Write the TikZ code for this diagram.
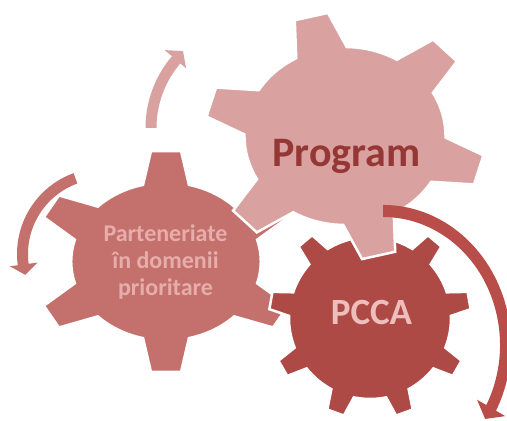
\documentclass[tikz,border=0pt]{standalone}
\usepackage{fontspec}
\setmainfont{Carlito}

\definecolor{programfill}{HTML}{D9A2A1}
\definecolor{programtext}{HTML}{953735}
\definecolor{partfill}{HTML}{C4716E}
\definecolor{parttext}{HTML}{E6ADAB}
\definecolor{pccafill}{HTML}{AE4A46}
\definecolor{pccatext}{HTML}{EDBEBC}
\definecolor{pccaturn}{HTML}{B84D49}

% teeth, body radius, tip radius, first tooth angle, base half angle, tip half angle
\newcommand{\cog}[6]{%
  (#4-#5:#2) \foreach \k [evaluate=\k as \ang using {#4+(\k-1)*360/#1}] in {1,...,#1} {
    -- (\ang-#5:#2) -- (\ang-#6:#3) -- (\ang+#6:#3) -- (\ang+#5:#2)
    arc[start angle=\ang+#5, end angle=\ang+360/#1-#5, radius=#2]
  } -- cycle}

\begin{document}
\begin{tikzpicture}[x=1pt, y=1pt,
    cog/.style={draw=white, line width=2.5pt},
    cogtext/.style={inner sep=0pt, align=center}]
  \useasboundingbox (0,0) rectangle (507,421);
  \clip (0,0) rectangle (507,421);

  % gears
  \begin{scope}[shift={(166,159.5)}, xscale=1.2]
    \filldraw[cog, fill=partfill] \cog{6}{79}{111}{90}{14}{6.5};
  \end{scope}
  \begin{scope}[shift={(370,103)}]
    \filldraw[cog, fill=pccafill] \cog{9}{81}{101}{90}{8.5}{5};
  \end{scope}
  \begin{scope}[shift={(345,285)}, xscale=1.13]
    \filldraw[cog, fill=programfill] \cog{6}{89}{124}{104}{15}{7};
  \end{scope}

  % turning arrows
  \begin{scope}[shift={(256,293)}]
    \fill[programfill] (180:99.5) -- (180:110.5) arc[start angle=180, end angle=139.5, radius=110.5]
      -- (139.5:120) -- (133.5:106) -- (139.5:92) -- (139.5:99.5)
      arc[start angle=139.5, end angle=180, radius=99.5] -- cycle;
  \end{scope}
  \begin{scope}[shift={(103,167)}]
    \fill[partfill] (110:75) -- (110:86) arc[start angle=110, end angle=187.5, radius=86]
      -- (187.5:94) -- (195:80.5) -- (187.5:66) -- (187.5:75)
      arc[start angle=187.5, end angle=110, radius=75] -- cycle;
  \end{scope}
  \begin{scope}[shift={(383,76)}, yscale=1.094]
    \fill[pccaturn] (90:117) -- (90:128) arc[start angle=90, end angle=-28, radius=128]
      -- (-28:138.5) -- (-33.5:122.5) -- (-28:106.5) -- (-28:117)
      arc[start angle=-28, end angle=90, radius=117] -- cycle;
  \end{scope}

  % labels
  \node[cogtext, text=parttext, font=\bfseries\fontsize{24}{27}\selectfont, anchor=base]
    (parteneriate) at (165.5,125) {Parteneriate\\în domenii\\prioritare};
  \node[cogtext, text=programtext, font=\bfseries\fontsize{42}{42}\selectfont, anchor=base]
    (program) at (346.5,254) {Program};
  \node[cogtext, text=pccatext, font=\bfseries\fontsize{37}{37}\selectfont, anchor=base]
    (pcca) at (371.5,96) {PCCA};
\end{tikzpicture}
\end{document}
